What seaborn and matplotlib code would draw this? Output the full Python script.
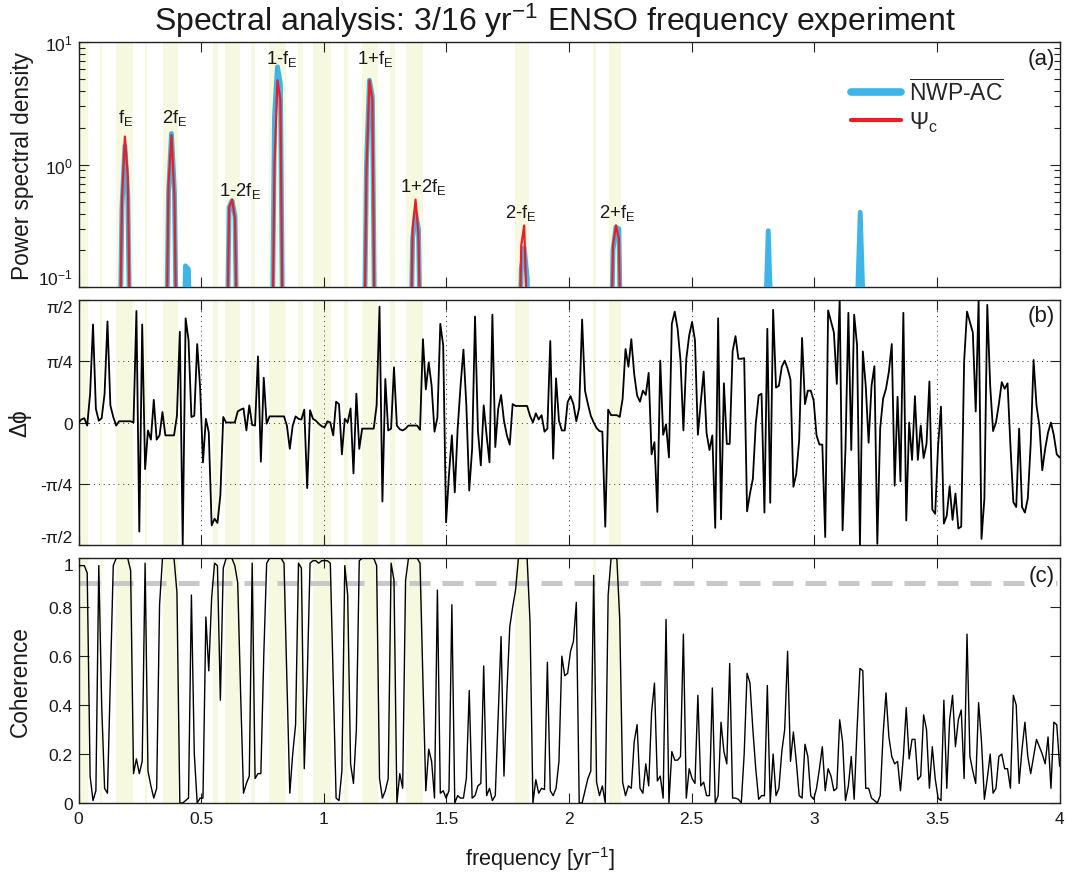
import numpy as np
import matplotlib
matplotlib.use("Agg")
import matplotlib.pyplot as plt
import seaborn as sns
from matplotlib.lines import Line2D

# coherence: 0 .. ~1.79 and 1.8 .. 4 yr^-1
coh_low = [0.97, 0.97, 0.97, 0.94, 0.11, 0.01, 0.05, 0.97, 0.40, 0.06,
           0.04, 0.50, 0.97, 1.0, 1.0, 1.0, 1.0, 1.0, 0.95, 0.12,
           0.18, 0.12, 0.17, 0.98, 0.13, 0.07, 0.02, 0.06, 0.81, 1.0,
           1.0, 1.0, 1.0, 1.0, 0.86, 0.0, 0.0, 0.01, 0.02, 0.85,
           0.2, 0.0, 0.02, 0.02, 0.76, 0.54, 0.84, 0.98, 0.97, 0.42,
           0.96, 1.0, 1.0, 1.0, 0.97, 0.9, 0.45, 0.04, 0.08, 0.11,
           0.98, 0.1, 0.12, 0.12, 0.6, 0.98, 1.0, 1.0, 1.0, 1.0,
           1.0, 0.98, 0.5, 0.04, 0.2, 0.32, 0.98, 0.96, 0.14, 0.5,
           0.98, 0.99, 0.99, 0.98, 0.99, 0.99, 0.99, 0.98, 0.5, 0.02,
           0.01, 0.13, 0.97, 0.85, 0.16, 0.08, 0.3, 0.99, 1.0, 1.0,
           1.0, 1.0, 1.0, 0.97, 0.1, 0.02, 0.05, 0.1, 0.98, 0.91,
           0.0, 0.12, 0.06, 0.91, 1.0, 1.0, 1.0, 1.0, 0.98, 0.5,
           0.05, 0.22, 0.17, 0.02, 0.87, 0.04, 0.05, 0.02, 0.05, 0.81,
           0.0, 0.03, 0.02, 0.02, 0.1, 0.46, 0.02, 0.03, 0.07, 0.08,
           0.56, 0.03, 0.06, 0.01, 0.03, 0.35, 0.68, 0.11, 0.45, 0.72,
           0.8, 0.87, 1.0]
coh_high = [1.0, 1.0, 1.0, 0.74, 0.0, 0.095, 0.04, 0.06, 0.055, 0.575,
            0.05, 0.03, 0.06, 0.17, 0.6, 0.52, 0.53, 0.62, 0.66, 0.82,
            0.0, 0.0, 0.05, 0.1, 0.13, 0.93, 0.085, 0.03, 0.07, 0.0,
            0.85, 1.0, 1.0, 1.0, 0.75, 0.085, 0.03, 0.07, 0.06, 0.25,
            0.32, 0.06, 0.04, 0.16, 0.07, 0.37, 0.49, 0.09, 0.11, 0.02,
            0.75, 0.0, 0.21, 0.175, 0.175, 0.19, 0.69, 0.02, 0.14, 0.1,
            0.08, 0.44, 0.07, 0.085, 0.03, 0.03, 0.47, 0.0, 0.03, 0.33,
            0.21, 0.16, 0.57, 0.02, 0.02, 0.015, 0.0, 0.2, 0.53, 0.49,
            0.3, 0.14, 0.015, 0.03, 0.03, 0.48, 0.0, 0.2, 0.03, 0.06,
            0.21, 0.3, 0.62, 0.17, 0.29, 0.17, 0.03, 0.02, 0.24, 0.19,
            0.03, 0.015, 0.06, 0.14, 0.23, 0.05, 0.14, 0.11, 0.05, 0.06,
            0.34, 0.25, 0.01, 0.07, 0.19, 0.015, 0.3, 0.55, 0.54, 0.06,
            0.06, 0.02, 0.01, 0.0, 0.03, 0.28, 0.45, 0.27, 0.19, 0.16,
            0.17, 0.05, 0.19, 0.39, 0.18, 0.26, 0.26, 0.095, 0.11, 0.36,
            0.3, 0.06, 0.23, 0.1, 0.02, 0.01, 0.42, 0.06, 0.34, 0.44,
            0.23, 0.34, 0.38, 0.1, 0.69, 0.19, 0.13, 0.08, 0.41, 0.25,
            0.015, 0.1, 0.2, 0.04, 0.06, 0.19, 0.2, 0.14, 0.14, 0.06,
            0.44, 0.4, 0.08, 0.22, 0.33, 0.19, 0.12, 0.19, 0.26, 0.23,
            0.2, 0.16, 0.27, 0.06, 0.33, 0.32, 0.15]

# phase difference in units of pi/4, panel (b)
phase_low = [0.0, 0.05, 0.07, -0.05, 0.47, 1.6, 0.22, 0.03, 0.07, 0.47,
             1.65, 0.28, 0.09, -0.05, 0.02, 0.02, 0.02, 0.02, 0.02, 0.0,
             1.82, -1.78, 1.6, -0.76, -0.13, -0.28, 0.37, -0.28, -0.21, 0.17,
             -0.21, -0.21, -0.21, -0.21, 0.11, 1.48, -2.0, 1.7, 1.35, 0.09,
             0.11, 1.28, 0.58, -0.65, 0.06, -0.16, -1.68, -1.57, -1.64, -1.19,
             0.09, 0.0, 0.0, 0.0, 0.0, 0.18, 0.21, 0.23, -0.13, 0.28,
             -0.04, -0.05, 1.08, -0.64, 0.73, -0.02, 0.1, 0.1, 0.1, 0.1,
             0.1, 0.1, -0.05, -0.43, -0.05, 0.1, 0.06, 0.05, 0.21, -1.07,
             0.2, 0.06, 0.03, -0.02, -0.06, -0.08, 0.02, 0.0, -0.21, 0.34,
             0.3, -0.52, 0.06, 0.0, 0.23, -0.83, 0.47, -0.43, -0.1, -0.1,
             -0.1, -0.1, -0.1, 0.28, 1.89, -1.29, 0.71, -0.13, -0.1, 0.9,
             -0.05, -0.11, -0.13, -0.1, -0.05, -0.05, -0.05, -0.05, -0.12, 1.36,
             0.54, 0.98, 0.6, -0.15, 0.08, 1.61, 1.26, -1.63, -0.85, -0.21,
             -1.14, -0.1, 0.6, 1.19, 0.28, -1.11, -0.43, 1.73, -0.13, -0.7,
             0.28, -0.21, -0.65, 1.76, -0.4, 0.22, 0.45, 0.03, -0.21, -0.36,
             0.3, 0.27, 0.27]
phase_high = [0.27, 0.27, 0.27, 0.11, 0.0, 0.15, 0.05, 0.12, -0.15, -0.1,
              1.33, -0.59, 0.72, 0.03, -0.13, -0.13, 0.33, 0.43, 0.3, 0.02,
              0.24, 1.68, 0.52, 0.3, 0.11, 0.0, -0.09, -0.14, -0.15, -1.7,
              0.21, 0.12, 0.12, 0.12, 0.09, 0.39, 1.2, 0.91, 1.36, 0.79,
              0.44, 0.34, 0.52, 0.45, 0.81, -0.52, -0.32, -1.46, 1.01, -0.2,
              -0.03, -0.57, 1.61, 1.81, 1.53, 1.01, -0.13, 1.04, 1.42, 1.64,
              1.34, -0.2, 0.33, 0.83, -0.17, -0.45, -0.21, -1.72, 1.7, -1.58,
              0.64, -0.35, -0.35, 1.16, 1.41, 1.04, 1.04, 1.05, -1.45, -1.16,
              -0.92, -0.02, 0.44, 0.47, -1.47, 1.53, -1.31, 1.84, 0.57, 0.6,
              0.91, 1.01, 0.88, 0.7, -1.05, -0.84, -0.29, 1.38, 0.3, 0.52,
              0.52, 0.36, -0.21, -0.36, -0.36, -1.87, 1.83, 1.65, 1.47, 0.63,
              2.0, -1.76, -0.43, 1.79, -0.45, 1.76, 1.26, -2.0, 1.16, 0.6,
              -0.33, 0.6, 0.92, -1.98, -0.09, 0.39, 0.55, 0.83, 1.28, -1.03,
              0.42, -0.96, 1.79, -1.6, 0.0, -0.61, 0.43, -0.61, -0.05, -0.58,
              -0.35, 0.67, -1.42, -1.49, -0.38, 0.26, -1.65, -1.52, -1.04, -1.59,
              -1.16, -1.73, -1.7, 1.0, 1.81, 1.64, 1.47, 0.18, 2.0, -1.9,
              -1.24, 1.92, 0.6, -0.14, 0.0, 0.3, 0.66, 0.55, 0.64, -0.38,
              -1.3, -1.38, -0.1, -1.38, -1.47, -1.24, -0.35, 1.02, 0.28, -0.05,
              -0.78, -0.43, -0.16, 0.0, -0.21, -0.52, -0.57]

# power spectral density around the peaks (0.01 = below the axis)
psd_freq = [0.165, 0.177, 0.189, 0.201, 0.213,
            0.355, 0.367, 0.379, 0.391, 0.403,
            0.424, 0.436, 0.448, 0.460,
            0.602, 0.614, 0.626, 0.638, 0.650,
            0.787, 0.799, 0.811, 0.823, 0.835,
            1.162, 1.174, 1.186, 1.198, 1.210,
            1.350, 1.362, 1.374, 1.386, 1.398,
            1.793, 1.805, 1.817, 1.829, 1.841,
            2.167, 2.179, 2.191, 2.203, 2.215,
            2.788, 2.800, 2.812, 2.824, 2.836,
            3.163, 3.175, 3.187, 3.199, 3.211]
psd_nwp = [0.01, 0.45, 1.43, 0.55, 0.01,
           0.01, 0.6, 1.8, 0.6, 0.01,
           0.01, 0.15, 0.14, 0.01,
           0.01, 0.45, 0.51, 0.38, 0.01,
           0.01, 2.5, 6.3, 4.6, 0.01,
           0.01, 1.0, 4.9, 3.6, 0.01,
           0.01, 0.25, 0.4, 0.3, 0.01,
           0.01, 0.14, 0.21, 0.12, 0.01,
           0.01, 0.2, 0.31, 0.3, 0.01,
           0.01, 0.05, 0.29, 0.05, 0.01,
           0.01, 0.07, 0.41, 0.07, 0.01]
psd_psi = [0.01, 0.5, 1.7, 0.8, 0.01,
           0.01, 0.7, 1.75, 0.55, 0.01,
           0.01, 0.01, 0.01, 0.01,
           0.01, 0.45, 0.52, 0.36, 0.01,
           0.01, 1.0, 4.9, 3.4, 0.01,
           0.01, 0.9, 4.9, 3.4, 0.01,
           0.01, 0.3, 0.52, 0.27, 0.01,
           0.01, 0.22, 0.32, 0.05, 0.01,
           0.01, 0.22, 0.32, 0.25, 0.01,
           0.01, 0.01, 0.01, 0.01, 0.01,
           0.01, 0.01, 0.01, 0.01, 0.01]

# shaded frequency bands (coherence above 0.9)
band_start = [0.0, 0.088, 0.154, 0.273, 0.345, 0.548, 0.597, 0.704, 0.777,
              0.895, 0.957, 1.083, 1.156, 1.271, 1.335, 1.778, 2.096, 2.164]
band_end = [0.039, 0.097, 0.222, 0.281, 0.405, 0.568, 0.658, 0.718, 0.844,
            0.914, 1.031, 1.097, 1.220, 1.290, 1.405, 1.836, 2.109, 2.212]

peak_names = ['f$_\\mathrm{E}$', '2f$_\\mathrm{E}$', '1-2f$_\\mathrm{E}$', '1-f$_\\mathrm{E}$',
              '1+f$_\\mathrm{E}$', '1+2f$_\\mathrm{E}$', '2-f$_\\mathrm{E}$', '2+f$_\\mathrm{E}$']
peak_name_f = [0.194, 0.391, 0.659, 0.828, 1.211, 1.405, 1.805, 2.197]
peak_name_psd = [2.44, 2.44, 0.62, 7.4, 7.4, 0.67, 0.41, 0.41]

coherence = np.array(coh_low + coh_high)
phase = np.array(phase_low + phase_high) * np.pi / 4
freq = np.linspace(0, 4, len(coherence))

sns.set_style("ticks")
plt.rcParams['font.family'] = ['Liberation Sans', 'DejaVu Sans']
plt.rcParams['mathtext.fontset'] = 'custom'
plt.rcParams['mathtext.rm'] = 'Liberation Sans'
plt.rcParams['mathtext.it'] = 'Liberation Sans:italic'
plt.rcParams['mathtext.bf'] = 'Liberation Sans:bold'
plt.rcParams['mathtext.sf'] = 'Liberation Sans'
plt.rcParams['axes.edgecolor'] = '#222222'
plt.rcParams['axes.linewidth'] = 1.0

blue = '#3db5e8'
red = '#ee1c25'
band_color = '#f6f8df'
txt = '#1a1a1a'

fig = plt.figure(figsize=(10.67, 8.78), dpi=100)
ax_a = fig.add_axes([0.0736, 0.6716, 0.9195, 0.2791])
ax_b = fig.add_axes([0.0736, 0.3781, 0.9195, 0.2791])
ax_c = fig.add_axes([0.0736, 0.0843, 0.9195, 0.2787])

xt = np.arange(0, 4.01, 0.5)
for ax in (ax_a, ax_b, ax_c):
    ax.set_xlim(0, 4)
    for s, e in zip(band_start, band_end):
        ax.axvspan(s, e, color=band_color, lw=0, zorder=0)
    ax.set_xticks(xt)
    ax.tick_params(which='both', direction='in', top=True, right=True,
                   width=0.8, colors='#222222', labelcolor=txt, labelsize=12.5)
    ax.tick_params(which='major', length=7)
    ax.tick_params(axis='y', pad=4)

# (a) power spectra
ax_a.set_yscale('log')
sns.lineplot(x=psd_freq, y=psd_nwp, ax=ax_a, color=blue, linewidth=3.5,
             estimator=None, sort=False, legend=False, zorder=3)
sns.lineplot(x=psd_freq, y=psd_psi, ax=ax_a, color=red, linewidth=1.6,
             estimator=None, sort=False, legend=False, zorder=4)
ax_a.set_ylim(0.1, 10)
ax_a.set_yticks([0.1, 1, 10])
ax_a.set_yticklabels([r'$10^{-1}$', r'$10^{0}$', r'$10^{1}$'])
ax_a.tick_params(which='minor', length=4)
ax_a.tick_params(labelbottom=False)
for name, f, y in zip(peak_names, peak_name_f, peak_name_psd):
    ax_a.text(f, y, name, ha='center', va='center', fontsize=13.3, color=txt)
handles = [Line2D([], [], color=blue, lw=5.5), Line2D([], [], color=red, lw=3)]
ax_a.legend(handles, [r'$\overline{\mathrm{NWP}\text{-}\mathrm{AC}}$', r'$\Psi_{\mathrm{c}}$'],
            loc='upper left', bbox_to_anchor=(0.787, 0.85), frameon=False, fontsize=16.5,
            handlelength=2.2, handletextpad=0.35, labelspacing=0.15,
            borderpad=0, borderaxespad=0)
ax_a.text(0.995, 0.935, '(a)', transform=ax_a.transAxes, ha='right', va='center',
          fontsize=16, color=txt)

# (b) phase difference
ax_b.grid(True, linestyle=(0, (1, 4)), color='#333333', linewidth=0.7)
sns.lineplot(x=freq, y=phase, ax=ax_b, color='black', linewidth=1.3,
             estimator=None, sort=False, legend=False, zorder=3)
ax_b.set_ylim(-np.pi / 2, np.pi / 2)
ax_b.set_yticks([-np.pi / 2, -np.pi / 4, 0, np.pi / 4, np.pi / 2])
ax_b.set_yticklabels(['-π/2', '-π/4', '0', 'π/4', 'π/2'])
ax_b.tick_params(labelbottom=False)
ax_b.text(0.995, 0.935, '(b)', transform=ax_b.transAxes, ha='right', va='center',
          fontsize=16, color=txt)

# (c) coherence
ax_c.axhline(0.9, color='#c8c8c8', linewidth=3.6, linestyle=(0, (4.2, 2.4)), zorder=1)
sns.lineplot(x=freq, y=coherence, ax=ax_c, color='black', linewidth=1.0,
             estimator=None, sort=False, legend=False, zorder=3)
ax_c.set_ylim(0, 1)
ax_c.set_yticks(np.arange(0, 1.01, 0.2))
ax_c.set_yticklabels(['0', '0.2', '0.4', '0.6', '0.8', '1'])
ax_c.set_xticklabels(['0', '0.5', '1', '1.5', '2', '2.5', '3', '3.5', '4'])
ax_c.tick_params(axis='x', pad=6)
ax_c.text(0.995, 0.93, '(c)', transform=ax_c.transAxes, ha='right', va='center',
          fontsize=16, color=txt, zorder=5,
          bbox=dict(facecolor='white', edgecolor='none', pad=1))

for ax in (ax_a, ax_b, ax_c):
    ax.set_xlabel('')
    ax.set_ylabel('')

# keep the end labels of neighbouring panels from running into each other
ax_a.yaxis.get_major_ticks()[0].label1.set_va('bottom')
ax_b.yaxis.get_major_ticks()[-1].label1.set_va('top')
ax_b.yaxis.get_major_ticks()[0].label1.set_va('bottom')
ax_c.yaxis.get_major_ticks()[-1].label1.set_va('top')

fig.text(0.021, 0.811, 'Power spectral density', rotation=90, ha='center', va='center',
         fontsize=16.3, color=txt)
fig.text(0.019, 0.5177, 'Δϕ', rotation=90, ha='center', va='center', fontsize=16.3, color=txt)
fig.text(0.019, 0.2237, 'Coherence', rotation=90, ha='center', va='center',
         fontsize=16.3, color=txt)
fig.text(0.506, 0.022, 'frequency [yr$^{-1}$]', ha='center', va='center', fontsize=15.7,
         color=txt)
fig.text(0.52, 0.965, 'Spectral analysis: 3/16 yr$^{-1}$ ENSO frequency experiment',
         ha='center', va='baseline', fontsize=23, color=txt)

fig.savefig('out.png', dpi=100)
